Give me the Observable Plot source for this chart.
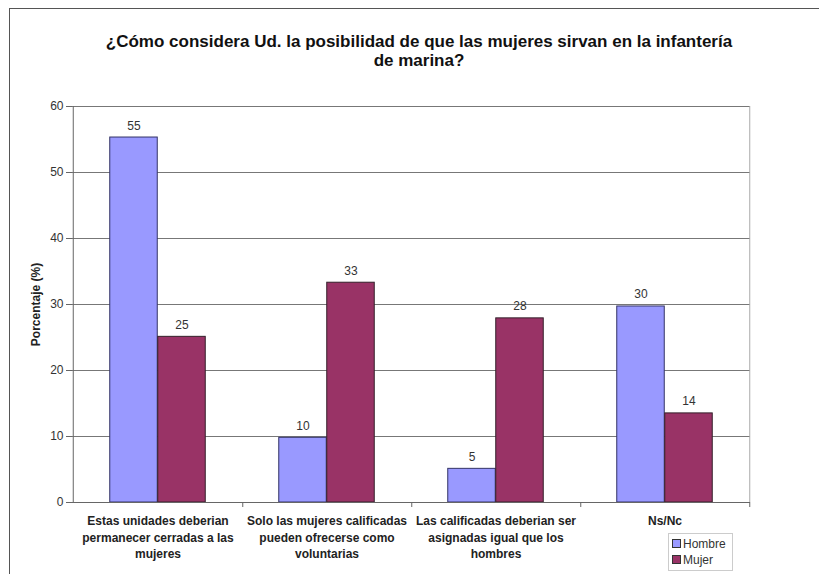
<!DOCTYPE html>
<html>
<head>
<meta charset="utf-8">
<script src="https://cdn.jsdelivr.net/npm/d3@7"></script>
<script src="https://cdn.jsdelivr.net/npm/@observablehq/plot@0.6"></script>
<style>
  html, body { margin: 0; padding: 0; background: #fff; }
  #wrap { position: relative; width: 819px; height: 574px; overflow: hidden; background: #fff;
          font-family: "Liberation Sans", Arial, sans-serif; }
  #frame { position: absolute; left: 9px; top: 8px; right: -2px; bottom: -2px; z-index: 5; pointer-events: none;
           border-left: 1px solid #555; border-top: 1px solid #555; }
  #title { position: absolute; left: 9px; width: 820px; top: 32px; text-align: center;
           font-weight: bold; font-size: 17px; line-height: 19px; color: #111; }
  #chart { position: absolute; left: 0; top: 90px; }
  #legend { position: absolute; left: 668px; top: 533px; width: 63px; height: 36px;
            border: 1px solid #ccc; background: #fff; font-size: 12px; color: #333; }
  .item { position: absolute; left: 3px; height: 15px; line-height: 15px; white-space: nowrap; }
  .sw { display: inline-block; width: 7px; height: 7px; border: 1px solid #333; margin-right: 2px; vertical-align: 0px; }
</style>
</head>
<body>
<div id="wrap">
  <div id="frame"></div>
  <div id="title">¿Cómo considera Ud. la posibilidad de que las mujeres sirvan en la infantería<br>de marina?</div>
  <div id="chart"></div>
  <div id="legend"></div>
</div>
<script>
const categories = ["c1", "c2", "c3", "c4"];
const categoryLabels = [
  "Estas unidades deberian\npermanecer cerradas a las\nmujeres",
  "Solo las mujeres calificadas\npueden ofrecerse como\nvoluntarias",
  "Las calificadas deberian ser\nasignadas igual que los\nhombres",
  "Ns/Nc"
];
const series = ["Hombre", "Mujer"];
const seriesColors = ["#9999ff", "#993366"];
const hombre = [55.3, 9.8, 5.1, 29.7];
const mujer = [25.1, 33.3, 27.9, 13.5];
const hombreLabels = ["55", "10", "5", "30"];
const mujerLabels = ["25", "33", "28", "14"];
const yTicks = [0, 10, 20, 30, 40, 50, 60];
const yLabel = "Porcentaje (%)";

const labelOf = Object.fromEntries(categories.map((c, i) => [c, categoryLabels[i]]));
const rowsH = categories.map((c, i) => ({cat: c, series: "Hombre", value: hombre[i], label: hombreLabels[i]}));
const rowsM = categories.map((c, i) => ({cat: c, series: "Mujer", value: mujer[i], label: mujerLabels[i]}));

const W = 819, H = 484, mL = 72, mR = 69, mT = 16, mB = 72;
const bw = (W - mL - mR) / categories.length;   // band width
const barW = 48;
const outer = bw / 2 - barW;                      // gap from band edge to group

const chart = Plot.plot({
  width: W, height: H,
  marginLeft: mL, marginRight: mR, marginTop: mT, marginBottom: mB,
  style: {fontFamily: "'Liberation Sans', Arial, sans-serif", fontSize: "12px", background: "transparent", color: "#333", overflow: "visible"},
  x: {domain: categories, padding: 0, label: null},
  y: {domain: [0, 60], label: null},
  marks: [
    Plot.ruleY(yTicks.slice(1), {stroke: "#777", strokeWidth: 1}),
    Plot.ruleX([categories[categories.length - 1]], {x: d => d, dx: bw / 2, y1: 0, y2: 60, stroke: "#aaa"}),
    Plot.barY(rowsH, {x: "cat", y: "value", fill: seriesColors[0], stroke: "#333366", strokeWidth: 1,
      insetLeft: outer, insetRight: bw - outer - barW}),
    Plot.barY(rowsM, {x: "cat", y: "value", fill: seriesColors[1], stroke: "#33202a", strokeWidth: 1,
      insetLeft: bw - outer - barW, insetRight: outer}),
    Plot.ruleY([0], {stroke: "#666"}),
    Plot.ruleX([categories[0]], {x: d => d, dx: -bw / 2, y1: 0, y2: 60, stroke: "#666"}),
    Plot.ruleX(categories, {x: d => d, dx: bw / 2, y1: 0, y2: 0, insetBottom: -5, stroke: "#666"}),
    Plot.text(rowsH, {x: "cat", y: "value", text: "label", dx: -barW / 2, dy: -8, lineAnchor: "bottom", fill: "#333"}),
    Plot.text(rowsM, {x: "cat", y: "value", text: "label", dx: barW / 2, dy: -8, lineAnchor: "bottom", fill: "#333"}),
    Plot.axisY({ticks: yTicks, tickSize: 6, tickPadding: 3, stroke: "#666", fill: "#333",
      label: yLabel, labelAnchor: "center", labelArrow: "none", labelOffset: 41}),
    Plot.axisX({tickSize: 0, tickPadding: 11, tickFormat: d => labelOf[d], fontWeight: "bold",
      fill: "#222", lineHeight: 1.38, label: null})
  ]
});
document.getElementById("chart").appendChild(chart);
d3.select(chart).selectAll('[aria-label="y-axis label"] text, g[aria-label="y-axis label"]')
  .attr("font-weight", "bold").attr("fill", "#222");

const legend = document.getElementById("legend");
series.forEach((s, i) => {
  const it = document.createElement("div");
  it.className = "item";
  it.style.top = (3 + i * 16) + "px";
  it.innerHTML = `<span class="sw" style="background:${seriesColors[i]}"></span>${s}`;
  legend.appendChild(it);
});
</script>
</body>
</html>
